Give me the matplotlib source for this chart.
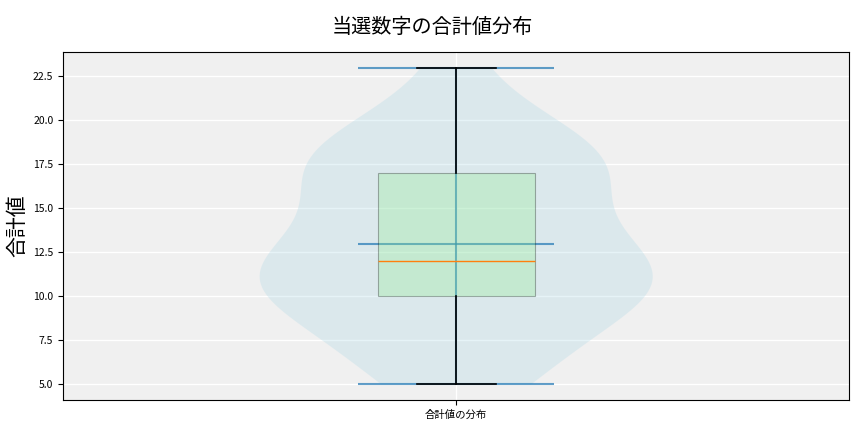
import matplotlib
matplotlib.use('Agg')
import matplotlib.pyplot as plt

plt.rcParams['font.family'] = ['Noto Sans CJK JP', 'DejaVu Sans']

# sums of winning numbers
sums = [5, 5, 7, 7, 7, 9, 10, 10, 10, 10, 11, 11, 11, 12, 12,
        12, 13, 14, 14, 15, 17, 17, 17, 17, 18, 18, 19, 19, 20, 23]
title = '当選数字の合計値分布'
y_label = '合計値'
x_tick_label = '合計値の分布'

fig, ax = plt.subplots(figsize=(8.64, 4.32), dpi=100)
ax.set_facecolor('#f0f0f0')

# violin first, then the box on top
vp = ax.violinplot([sums], positions=[1], widths=0.5, showmeans=True, showextrema=True)
for body in vp['bodies']:
    body.set_facecolor('lightblue')
    body.set_edgecolor('none')
    body.set_alpha(0.3)
for key in ['cmeans', 'cmins', 'cmaxes', 'cbars']:
    vp[key].set_color('#1f77b4')
    vp[key].set_alpha(0.7)
    vp[key].set_linewidth(1.5)

ax.boxplot([sums], positions=[1], widths=0.2, patch_artist=True,
           boxprops=dict(facecolor='lightgreen', edgecolor='black', linewidth=0.8, alpha=0.3),
           medianprops=dict(color='C1', linewidth=1),
           whiskerprops=dict(color='black', linewidth=1.2),
           capprops=dict(color='black', linewidth=1.2),
           showfliers=False)

ax.set_xlim(0.5, 1.5)
ax.set_xticks([1])
ax.set_xticklabels([x_tick_label], fontsize=7.5)
ax.tick_params(axis='y', labelsize=7.5)
ax.grid(True, color='white', linewidth=1)
ax.set_axisbelow(True)
ax.set_ylabel(y_label, fontsize=15)
ax.yaxis.set_label_coords(-0.044, 0.5)
fig.suptitle(title, fontsize=14.5, y=0.96)

fig.subplots_adjust(left=0.073, right=0.983, top=0.88, bottom=0.074)
fig.savefig('out.png', dpi=100)
